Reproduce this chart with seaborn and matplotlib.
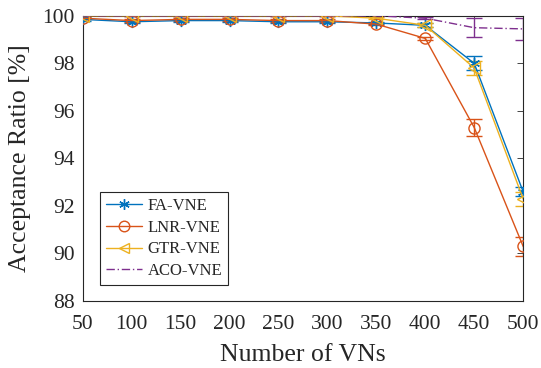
import numpy as np
import pandas as pd
import matplotlib
matplotlib.use("Agg")
import matplotlib.pyplot as plt
import seaborn as sns

x = [50, 100, 150, 200, 250, 300, 350, 400, 450, 500]
fa = [99.85, 99.75, 99.8, 99.8, 99.75, 99.75, 99.7, 99.6, 98.0, 92.6]
fa_err = [0.05, 0.05, 0.05, 0.05, 0.05, 0.05, 0.05, 0.08, 0.3, 0.2]
lnr = [99.9, 99.8, 99.85, 99.85, 99.8, 99.8, 99.65, 99.05, 95.3, 90.3]
lnr_err = [0.05, 0.05, 0.05, 0.05, 0.05, 0.05, 0.05, 0.08, 0.35, 0.4]
gtr = [100.0, 100.0, 100.0, 100.0, 100.0, 100.0, 99.9, 99.6, 97.8, 92.3]
gtr_err = [0.02, 0.02, 0.02, 0.02, 0.02, 0.02, 0.05, 0.08, 0.3, 0.3]
aco = [100.0, 100.0, 100.0, 100.0, 100.0, 100.0, 100.0, 99.9, 99.5, 99.45]
aco_err = [0.0, 0.0, 0.0, 0.0, 0.0, 0.0, 0.02, 0.05, 0.4, 0.45]
names = ["FA-VNE", "LNR-VNE", "GTR-VNE", "ACO-VNE"]
xticks = [50, 100, 150, 200, 250, 300, 350, 400, 450, 500]
yticks = [88, 90, 92, 94, 96, 98, 100]

sns.set_style("white")
plt.rcParams['font.family'] = ['Liberation Serif', 'DejaVu Serif']
plt.rcParams['mathtext.fontset'] = 'stix'

fig = plt.figure(figsize=(5.41, 3.68), dpi=100)
ax = fig.add_axes([0.153, 0.182, 0.814, 0.775])

colors = ["#0072BD", "#D95319", "#EDB120", "#7E2F8E"]
markers = ["*", "o", "<", None]
series = [fa, lnr, gtr, aco]
errs = [fa_err, lnr_err, gtr_err, aco_err]
styles = ["-", "-", "-", (0, (6, 2, 1, 2))]

for name, y, e, c, m, ls in zip(names, series, errs, colors, markers, styles):
    df = pd.DataFrame({"x": x, "y": y})
    ax.errorbar(x, y, yerr=e, fmt='none', ecolor=c, elinewidth=1.0, capsize=6, capthick=1.0, zorder=2)
    if m == "*":
        sns.lineplot(data=df, x="x", y="y", ax=ax, color=c, linewidth=1.0, linestyle=ls,
                     marker=(6, 2, 0), markersize=8, markeredgewidth=1.0, markeredgecolor=c,
                     label=name, zorder=3)
    elif m is not None:
        sns.lineplot(data=df, x="x", y="y", ax=ax, color=c, linewidth=1.0, linestyle=ls,
                     marker=m, markersize=8, markerfacecolor='none', markeredgewidth=1.0,
                     markeredgecolor=c, label=name, zorder=3)
    else:
        sns.lineplot(data=df, x="x", y="y", ax=ax, color=c, linewidth=1.0, linestyle=ls,
                     label=name, zorder=3)

ax.set_xlim(50, 500)
ax.set_ylim(88, 100)
ax.set_xticks(xticks)
ax.set_yticks(yticks)
ax.tick_params(direction='in', length=4, width=0.6, labelsize=15.5, top=True, right=True,
               colors='#262626', labelcolor='#262626')
ax.tick_params(axis='x', pad=10)
ax.tick_params(axis='y', pad=6)
for s in ax.spines.values():
    s.set_visible(True)
    s.set_color('#262626')
    s.set_linewidth(0.8)
ax.set_xlabel("Number of VNs", fontsize=18.5, color='#262626', labelpad=7)
ax.set_ylabel("Acceptance Ratio [%]", fontsize=18.5, color='#262626', labelpad=8)

leg = ax.legend(loc='lower left', bbox_to_anchor=(0.039, 0.056), borderaxespad=0, fontsize=12,
                frameon=True, fancybox=False, edgecolor='#262626', framealpha=1, borderpad=0.35,
                labelspacing=0.35, handlelength=2.2, handletextpad=0.3, markerscale=0.95)
leg.get_frame().set_linewidth(0.8)

fig.savefig("out.png", dpi=100)
